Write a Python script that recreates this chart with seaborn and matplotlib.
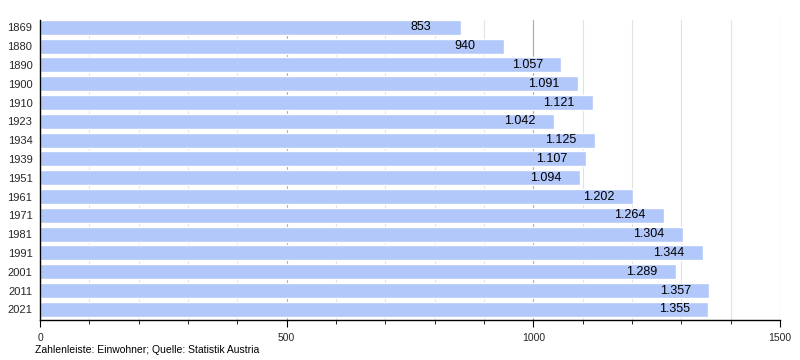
import matplotlib
matplotlib.use("Agg")
import matplotlib.pyplot as plt
import pandas as pd
import seaborn as sns
from matplotlib.ticker import MultipleLocator

years = ["1869", "1880", "1890", "1900", "1910", "1923", "1934", "1939",
         "1951", "1961", "1971", "1981", "1991", "2001", "2011", "2021"]
population = [853, 940, 1057, 1091, 1121, 1042, 1125, 1107,
              1094, 1202, 1264, 1304, 1344, 1289, 1357, 1355]
x_ticks = [0, 500, 1000, 1500]
caption = "Zahlenleiste: Einwohner; Quelle: Statistik Austria"

BAR_COLOR = "#b2c8fa"

sns.set_theme(style="white")
plt.rcParams["font.family"] = ["Liberation Sans", "DejaVu Sans"]

df = pd.DataFrame({"year": years, "population": population})

fig = plt.figure(figsize=(8, 3.6), dpi=100)
ax = fig.add_axes([0.05, 0.111, 0.925, 0.833])

sns.barplot(data=df, x="population", y="year", orient="h", color=BAR_COLOR,
            saturation=1, width=0.8, ax=ax, zorder=2)

ax.set_xlim(0, 1500)
ax.set_ylim(15.57, -0.38)
ax.set_xticks(x_ticks)
ax.xaxis.set_minor_locator(MultipleLocator(100))
ax.set_axisbelow(True)
ax.grid(axis="x", which="major", color="#a8a8a8", linewidth=0.8, zorder=0)
ax.grid(axis="x", which="minor", color="#e2e2e2", linewidth=0.8, zorder=0)
ax.grid(axis="y", visible=False)

for side in ["top", "right"]:
    ax.spines[side].set_visible(False)
for side in ["left", "bottom"]:
    ax.spines[side].set_color("black")
    ax.spines[side].set_linewidth(1)

ax.tick_params(axis="x", which="major", bottom=True, length=5, width=0.8,
               color="black", labelsize=7.5, pad=4)
ax.tick_params(axis="x", which="minor", bottom=True, length=3, width=0.6, color="black")
ax.tick_params(axis="y", left=False, length=0, labelsize=8, pad=5.5)
ax.set_xlabel("")
ax.set_ylabel("")

for i, v in enumerate(population):
    label = f"{v:,}".replace(",", ".")
    ax.text(v - 101, i, label, ha="left", va="center", fontsize=9, color="black", zorder=3)

fig.text(35 / 800, 1 - 350 / 360, caption, ha="left", va="center", fontsize=7.5, color="black")

fig.savefig("out.png", dpi=100)
